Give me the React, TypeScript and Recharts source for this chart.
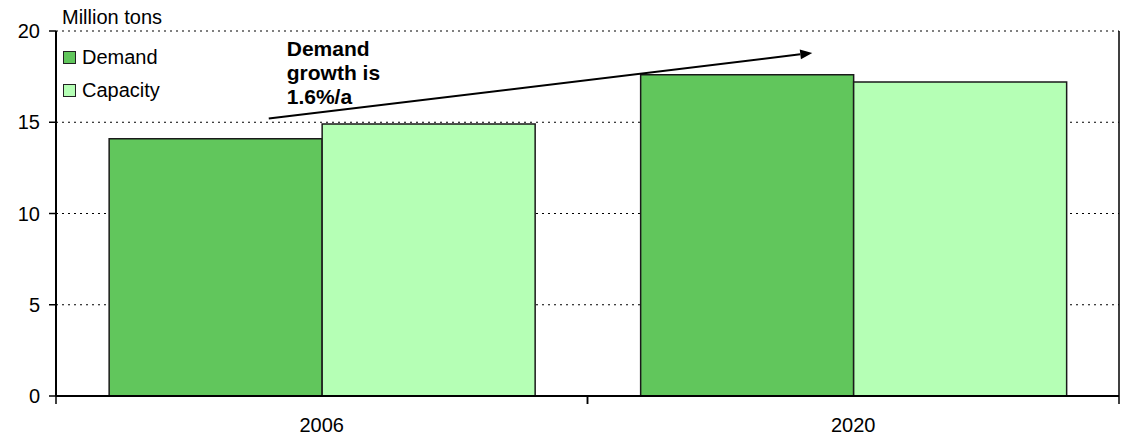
import {
  Bar,
  BarChart,
  CartesianGrid,
  Legend,
  ReferenceLine,
  XAxis,
  YAxis,
} from "recharts";

const years = ["2006", "2020"];
const demand = [14.1, 17.6];
const capacity = [14.9, 17.2];
const yTicks = [0, 5, 10, 15, 20];

const series = [
  { key: "demand", name: "Demand", color: "#61c65c" },
  { key: "capacity", name: "Capacity", color: "#b5ffb5" },
];

const data = years.map((year, i) => ({
  year,
  demand: demand[i],
  capacity: capacity[i],
}));

// growth arrow from the 2006 group up to the 2020 group (tons)
const arrowFrom = { x: "2006", y: 15.2 };
const arrowTo = { x: "2020", y: 18.8 };
const arrowText = ["Demand", "growth is", "1.6%/a"];

const font = "Arial, 'Liberation Sans', sans-serif";
const xTickMargin = 22;

function LegendBox() {
  return (
    <div style={{ fontFamily: font, fontSize: 20, color: "#000" }}>
      {series.map((s) => (
        <div
          key={s.key}
          style={{ display: "flex", alignItems: "center", height: 33 }}
        >
          <span
            style={{
              width: 11,
              height: 11,
              background: s.color,
              border: "1px solid #222",
              marginRight: 6,
            }}
          />
          {s.name}
        </div>
      ))}
    </div>
  );
}

// category label plus tick marks on the group boundaries
function YearTick(props: any) {
  const { x, y, payload } = props;
  const half = payload?.offset ?? 0;
  const axisY = y - xTickMargin;
  return (
    <g>
      {half > 0 && (
        <>
          <line x1={x - half} y1={axisY} x2={x - half} y2={axisY + 8} stroke="#000" strokeWidth={1.5} />
          <line x1={x + half} y1={axisY} x2={x + half} y2={axisY + 8} stroke="#000" strokeWidth={1.5} />
        </>
      )}
      <text
        x={x}
        y={y}
        dy="0.71em"
        textAnchor="middle"
        fill="#000"
        style={{ fontFamily: font, fontSize: 20 }}
      >
        {payload.value}
      </text>
    </g>
  );
}

function GrowthArrow(props: any) {
  const x1 = props.x1 - 53;
  const x2 = props.x2 - 41;
  const { y1, y2 } = props;
  const ang = Math.atan2(y2 - y1, x2 - x1);
  const len = 12;
  const w = 5;
  const bx = x2 - len * Math.cos(ang);
  const by = y2 - len * Math.sin(ang);
  const px = -Math.sin(ang) * w;
  const py = Math.cos(ang) * w;
  return (
    <g>
      <line x1={x1} y1={y1} x2={bx} y2={by} stroke="#000" strokeWidth={2} />
      <polygon
        points={`${x2},${y2} ${bx + px},${by + py} ${bx - px},${by - py}`}
        fill="#000"
      />
      <text
        x={x1 + 18}
        y={y1 - 63}
        fontFamily={font}
        fontSize={21}
        fontWeight="bold"
        fill="#000"
      >
        {arrowText.map((t, i) => (
          <tspan key={t} x={x1 + 18} dy={i === 0 ? 0 : 24}>
            {t}
          </tspan>
        ))}
      </text>
    </g>
  );
}

export default function App() {
  return (
    <div style={{ position: "absolute", left: 0, top: 0 }}>
      <BarChart
        width={1123}
        height={440}
        data={data}
        margin={{ top: 31, right: 4, left: 0, bottom: 0 }}
        barCategoryGap="10%"
        barGap={0}
      >
        <CartesianGrid
          vertical={false}
          stroke="#000"
          strokeDasharray="2 4"
        />
        {/* solid right-hand frame of the plot area */}
        <CartesianGrid
          horizontal={false}
          stroke="#000"
          strokeWidth={1.5}
          verticalCoordinatesGenerator={({ offset }: any) => [
            offset.left + offset.width,
          ]}
        />
        <XAxis
          dataKey="year"
          axisLine={{ stroke: "#000", strokeWidth: 2 }}
          tickLine={false}
          tickSize={0}
          tickMargin={xTickMargin}
          height={44}
          tick={(p: any) => <YearTick {...p} />}
        />
        <YAxis
          domain={[0, 20]}
          ticks={yTicks}
          width={56}
          tickSize={7}
          tickMargin={9}
          axisLine={{ stroke: "#000", strokeWidth: 2 }}
          tickLine={{ stroke: "#000", strokeWidth: 1.5 }}
          tick={{ fill: "#000", fontSize: 20, fontFamily: font }}
          label={{
            content: () => (
              <text
                x={62}
                y={24}
                fill="#000"
                style={{ fontFamily: font, fontSize: 20 }}
              >
                Million tons
              </text>
            ),
          }}
        />
        <Legend
          layout="vertical"
          align="center"
          verticalAlign="middle"
          wrapperStyle={{ left: 63, top: 41, width: "auto" }}
          content={() => <LegendBox />}
        />
        {series.map((s) => (
          <Bar
            key={s.key}
            dataKey={s.key}
            name={s.name}
            fill={s.color}
            stroke="#1a1a1a"
            strokeWidth={1.5}
            isAnimationActive={false}
          />
        ))}
        <ReferenceLine
          segment={[arrowFrom, arrowTo]}
          ifOverflow="visible"
          shape={(p: any) => <GrowthArrow {...p} />}
        />
      </BarChart>
    </div>
  );
}
